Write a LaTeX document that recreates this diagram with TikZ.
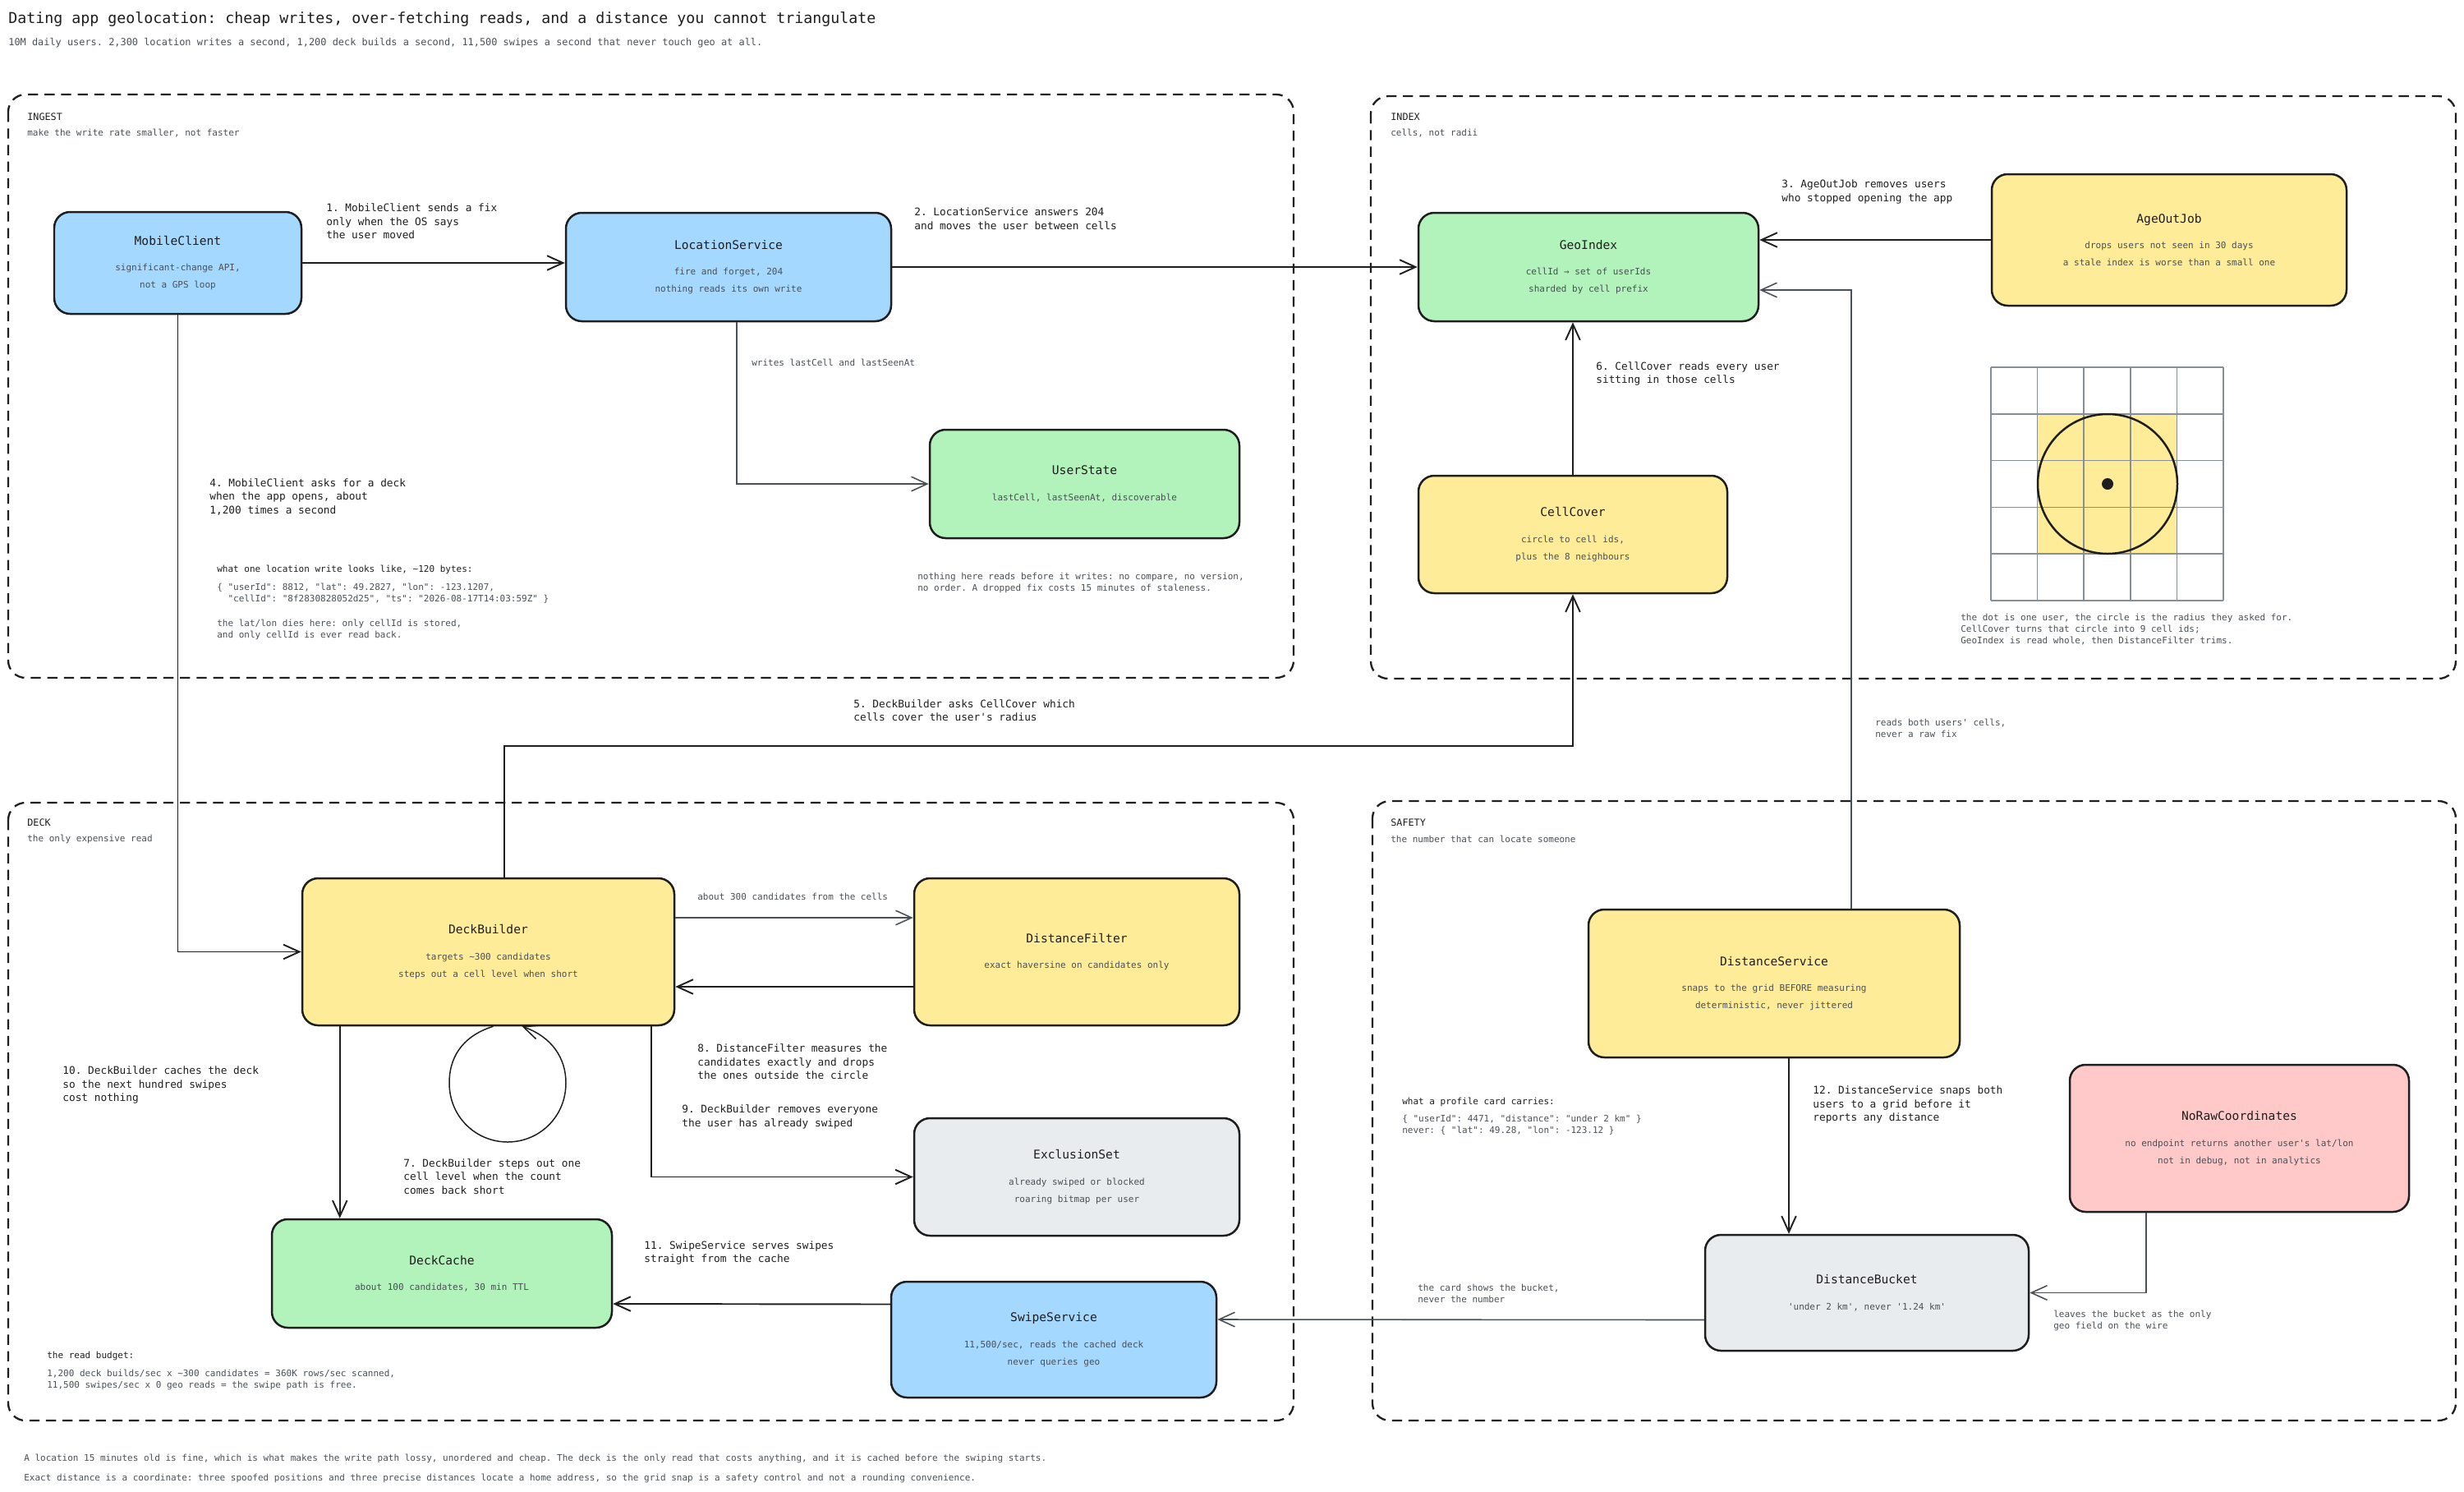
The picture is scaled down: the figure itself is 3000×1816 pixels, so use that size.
\documentclass[tikz,border=0pt]{standalone}
\usepackage{fontspec}
\setmonofont{DejaVu Sans Mono}
\usetikzlibrary{arrows.meta,calc}
\definecolor{ink}{HTML}{1E1E1E}
\definecolor{muted}{HTML}{495057}
\definecolor{gridc}{HTML}{868E96}
\definecolor{fblue}{HTML}{A5D8FF}
\definecolor{fgreen}{HTML}{B2F2BB}
\definecolor{fyellow}{HTML}{FFEC99}
\definecolor{fgrey}{HTML}{E9ECEF}
\definecolor{fred}{HTML}{FFC9C9}
\newdimen\pxu \pxu=0.02cm
\newcommand\fTitle{\ttfamily\fontsize{10.4}{12.5}\selectfont}
\newcommand\fSubt{\ttfamily\fontsize{6.78}{8}\selectfont}
\newcommand\fNT{\ttfamily\fontsize{8.32}{10}\selectfont}
\newcommand\fNS{\ttfamily\fontsize{6.26}{11.95}\selectfont}
\newcommand\fEL{\ttfamily\fontsize{7.28}{9.39}\selectfont}
\newcommand\fGT{\ttfamily\fontsize{6.7}{8}\selectfont}
\newcommand\fSm{\ttfamily\fontsize{6.26}{7.97}\selectfont}
\newcommand\ttl[1]{{\color{ink}\fNT #1}\\[5.97pt]}
\begin{document}
\begin{tikzpicture}[x=0.02cm,y=-0.02cm,
  box/.style={draw=ink, line width=1.42pt, rounded corners=11pt, align=center, font=\fNS, text=muted, inner sep=0pt},
  grp/.style={draw=ink, line width=1.3pt, dash pattern=on 7pt off 4.5pt, rounded corners=12pt},
  arr/.style={draw=ink, line width=1.1pt, line cap=round, -{Straight Barb[length=11pt,width=10pt]}},
  thinarr/.style={draw=ink, line width=0.85pt, -{Straight Barb[length=11pt,width=10pt]}},
  garr/.style={draw=muted, line width=0.9pt, -{Straight Barb[length=11pt,width=10pt]}},
  lbl/.style={font=\fEL, text=ink, anchor=west, align=left, inner sep=0pt},
  glbl/.style={font=\fSm, text=muted, anchor=west, align=left, inner sep=0pt},
  nhead/.style={font=\fSm, text=ink, anchor=west, align=left, inner sep=0pt},
  gtitle/.style={font=\fGT, text=ink, anchor=west, inner sep=0pt},
  gsub/.style={font=\fSm, text=muted, anchor=west, inner sep=0pt}]
\useasboundingbox (0,0) rectangle (3000,1816);

% title
\node[font=\fTitle, text=ink, anchor=west, inner sep=0pt] (title) at (10,23) {Dating app geolocation: cheap writes, over-fetching reads, and a distance you cannot triangulate};
\node[font=\fSubt, text=muted, anchor=west, inner sep=0pt] (subtitle) at (10,52) {10M daily users. 2,300 location writes a second, 1,200 deck builds a second, 11,500 swipes a second that never touch geo at all.};

% groups
\draw[grp] (10,115) rectangle (1575,825);
\draw[grp] (1669,117) rectangle (2990,826);
\draw[grp] (10,977) rectangle (1575,1729);
\draw[grp] (1671,975) rectangle (2990,1729);
\node[gtitle] (g1t) at (33,142) {INGEST};
\node[gsub] (g1s) at (33,162) {make the write rate smaller, not faster};
\node[gtitle] (g2t) at (1693,142) {INDEX};
\node[gsub] (g2s) at (1693,162) {cells, not radii};
\node[gtitle] (g3t) at (33,1001) {DECK};
\node[gsub] (g3s) at (33,1021) {the only expensive read};
\node[gtitle] (g4t) at (1693,1001) {SAFETY};
\node[gsub] (g4s) at (1693,1021) {the number that can locate someone};

% grid illustration
\fill[fyellow] (2480.6,503.8) rectangle (2650.4,674.2);
\foreach \i in {0,...,5} {
  \draw[gridc, line width=0.85pt] (2424+56.6*\i,447) -- (2424+56.6*\i,731);
  \draw[gridc, line width=0.85pt] (2424,447+56.8*\i) -- (2707,447+56.8*\i);
}
\draw[ink, line width=1.42pt] (2566,589) circle[radius=85];
\fill[ink] (2566,589) circle[radius=7];
\node[glbl] (gridcap) at (2387,766) {the dot is one user, the circle is the radius they asked for.\\CellCover turns that circle into 9 cell ids;\\GeoIndex is read whole, then DistanceFilter trims.};

% boxes
\node[box, fill=fblue, minimum width=301*\pxu, minimum height=124*\pxu] (mc) at (216.5,320) {\ttl{MobileClient}significant-change API,\\not a GPS loop};
\node[box, fill=fblue, minimum width=396*\pxu, minimum height=132*\pxu] (ls) at (887,325) {\ttl{LocationService}fire and forget, 204\\nothing reads its own write};
\node[box, fill=fgreen, minimum width=414*\pxu, minimum height=132*\pxu] (gi) at (1934,325) {\ttl{GeoIndex}cellId → set of userIds\\sharded by cell prefix};
\node[box, fill=fyellow, minimum width=432*\pxu, minimum height=160*\pxu] (aj) at (2641,292) {\ttl{AgeOutJob}drops users not seen in 30 days\\a stale index is worse than a small one};
\node[box, fill=fgreen, minimum width=377*\pxu, minimum height=132*\pxu] (us) at (1320.5,589) {\ttl{UserState}lastCell, lastSeenAt, discoverable};
\node[box, fill=fyellow, minimum width=376*\pxu, minimum height=143*\pxu] (cc) at (1915,650.5) {\ttl{CellCover}circle to cell ids,\\plus the 8 neighbours};
\node[box, fill=fyellow, minimum width=453*\pxu, minimum height=179*\pxu] (db) at (594.5,1158.5) {\ttl{DeckBuilder}targets \textasciitilde300 candidates\\steps out a cell level when short};
\node[box, fill=fyellow, minimum width=396*\pxu, minimum height=179*\pxu] (df) at (1311,1158.5) {\ttl{DistanceFilter}exact haversine on candidates only};
\node[box, fill=fgrey, minimum width=396*\pxu, minimum height=143*\pxu] (es) at (1311,1432.5) {\ttl{ExclusionSet}already swiped or blocked\\roaring bitmap per user};
\node[box, fill=fgreen, minimum width=414*\pxu, minimum height=132*\pxu] (dc) at (538,1550) {\ttl{DeckCache}about 100 candidates, 30 min TTL};
\node[box, fill=fblue, minimum width=396*\pxu, minimum height=141*\pxu] (ss) at (1283,1630.5) {\ttl{SwipeService}11,500/sec, reads the cached deck\\never queries geo};
\node[box, fill=fyellow, minimum width=452*\pxu, minimum height=180*\pxu] (ds) at (2160,1197) {\ttl{DistanceService}snaps to the grid BEFORE measuring\\deterministic, never jittered};
\node[box, fill=fred, minimum width=413*\pxu, minimum height=179*\pxu] (nrc) at (2726.5,1385.5) {\ttl{NoRawCoordinates}no endpoint returns another user's lat/lon\\not in debug, not in analytics};
\node[box, fill=fgrey, minimum width=394*\pxu, minimum height=141*\pxu] (dbk) at (2273,1573.5) {\ttl{DistanceBucket}'under 2 km', never '1.24 km'};

% connector anchor points
\coordinate (dbL) at ($(db.south west)+(47,0)$);
\coordinate (dsB) at ($(ds.south)+(18,0)$);

% connectors
\draw[arr] (mc.east) -- (mc.east -| ls.west);
\draw[arr] (ls.east) -- (gi.west);
\draw[arr] (aj.west) -- (aj.west -| gi.east);
\draw[arr] (mc.south) |- (db.west);
\draw[arr] ($(db.north)+(19.5,0)$) -- ++(0,-160) -| (cc.south);
\draw[arr] (cc.north) -- (cc.north |- gi.south);
\draw[thinarr] ($(db.south)+(6,0)$) .. controls (560,1262) and (547,1290) .. (547,1318) .. controls (547,1360) and (580,1390) .. (618,1390) .. controls (656,1390) and (689,1360) .. (689,1318) .. controls (689,1288) and (672,1262) .. ($(db.south)+(41,0)$);
\draw[garr] ($(db.east)+(0,-41.5)$) -- ($(df.west)+(0,-41.5)$);
\draw[arr] ($(df.west)+(0,42.5)$) -- ($(db.east)+(0,42.5)$);
\draw[arr] (dbL) -- (dbL |- dc.north);
\draw[arr] ($(db.south east)+(-29,0)$) |- (es.west);
\draw[arr] ($(ss.west)+(0,-43)$) -- ($(dc.east)+(0,37)$);
\draw[garr] ($(dbk.west)+(0,33)$) -- ($(ss.east)+(0,-24.5)$);
\draw[arr] (dsB) -- (dsB |- dbk.north);
\draw[garr] ($(nrc.south)+(-113.5,0)$) |- (dbk.east);
\draw[garr] ($(ds.north)+(94,0)$) |- ($(gi.east)+(0,28)$);
\draw[garr] ($(ls.south)+(10,0)$) |- (us.west);

% connector labels
\node[lbl] (l1) at (397,269.5) {1. MobileClient sends a fix\\only when the OS says\\the user moved};
\node[lbl] (l2) at (1113,266) {2. LocationService answers 204\\and moves the user between cells};
\node[lbl] (l3) at (2169,233.5) {3. AgeOutJob removes users\\who stopped opening the app};
\node[lbl] (l4) at (255,604.5) {4. MobileClient asks for a deck\\when the app opens, about\\1,200 times a second};
\node[lbl] (l5) at (1039,864.5) {5. DeckBuilder asks CellCover which\\cells cover the user's radius};
\node[lbl] (l6) at (1943,455) {6. CellCover reads every user\\sitting in those cells};
\node[lbl] (l7) at (491,1432) {7. DeckBuilder steps out one\\cell level when the count\\comes back short};
\node[lbl] (l8) at (849,1292.5) {8. DistanceFilter measures the\\candidates exactly and drops\\the ones outside the circle};
\node[lbl] (l9) at (830,1359.5) {9. DeckBuilder removes everyone\\the user has already swiped};
\node[lbl] (l10) at (76,1320.5) {10. DeckBuilder caches the deck\\so the next hundred swipes\\cost nothing};
\node[lbl] (l11) at (784,1525) {11. SwipeService serves swipes\\straight from the cache};
\node[lbl] (l12) at (2207,1344.5) {12. DistanceService snaps both\\users to a grid before it\\reports any distance};
\node[glbl] (gl1) at (915,441) {writes lastCell and lastSeenAt};
\node[glbl] (gl2) at (849,1091) {about 300 candidates from the cells};
\node[glbl] (gl3) at (2283,886) {reads both users' cells,\\never a raw fix};
\node[glbl] (gl4) at (1726,1574.5) {the card shows the bucket,\\never the number};
\node[glbl] (gl5) at (2500,1607.5) {leaves the bucket as the only\\geo field on the wire};

% notes
\node[nhead] (n1h) at (264,693) {what one location write looks like, \textasciitilde120 bytes:};
\node[glbl] (n1a) at (264,722) {\{ "userId": 8812, "lat": 49.2827, "lon": -123.1207,\\\hphantom{xx}"cellId": "8f2830828052d25", "ts": "2026-08-17T14:03:59Z" \}};
\node[glbl] (n1b) at (264,766) {the lat/lon dies here: only cellId is stored,\\and only cellId is ever read back.};
\node[glbl] (n2) at (1117,709) {nothing here reads before it writes: no compare, no version,\\no order. A dropped fix costs 15 minutes of staleness.};
\node[nhead] (n3h) at (57,1650) {the read budget:};
\node[glbl] (n3a) at (57,1679) {1,200 deck builds/sec x \textasciitilde300 candidates = 360K rows/sec scanned,\\11,500 swipes/sec x 0 geo reads = the swipe path is free.};
\node[nhead] (n4h) at (1707,1341) {what a profile card carries:};
\node[glbl] (n4a) at (1707,1369.5) {\{ "userId": 4471, "distance": "under 2 km" \}\\never: \{ "lat": 49.28, "lon": -123.12 \}};

% footer
\node[glbl] (f1) at (29,1775) {A location 15 minutes old is fine, which is what makes the write path lossy, unordered and cheap. The deck is the only read that costs anything, and it is cached before the swiping starts.};
\node[glbl] (f2) at (29,1799) {Exact distance is a coordinate: three spoofed positions and three precise distances locate a home address, so the grid snap is a safety control and not a rounding convenience.};
\end{tikzpicture}
\end{document}
